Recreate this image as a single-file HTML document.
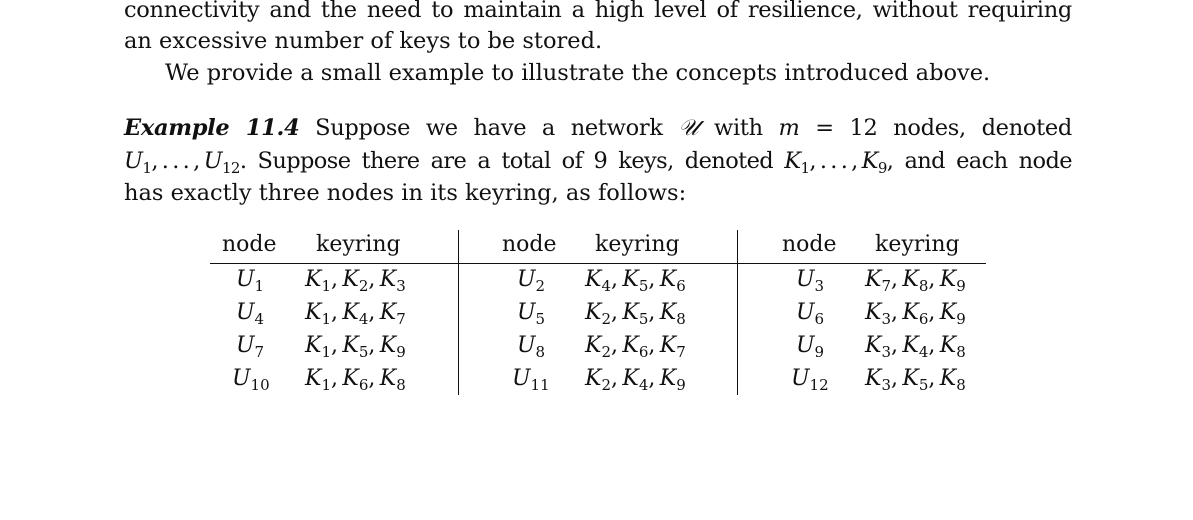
<!DOCTYPE html>
<html><head><meta charset="utf-8"><style>
html,body{margin:0;padding:0;background:#fff;}
body{width:1193px;height:520px;position:relative;overflow:hidden;font-family:"DejaVu Serif","Liberation Serif",serif;font-size:22.5px;color:#111;}
.l{position:absolute;left:124px;white-space:nowrap;line-height:32px;}
.j{width:948px;text-align:justify;text-align-last:justify;white-space:normal;letter-spacing:-0.3px;height:32px;overflow:visible;}
i{font-style:italic;}
sub{font-size:15px;vertical-align:-5px;line-height:0;}
.c{position:absolute;white-space:nowrap;line-height:32px;font-size:22px;}
.vr{position:absolute;width:1.3px;background:#111;top:230px;height:165px;}
.hr{position:absolute;left:210px;width:776px;top:263px;height:1.3px;background:#111;}
</style></head><body>
<div class="l j" style="top:-6px">connectivity and the need to maintain a high level of resilience, without requiring</div>
<div class="l" style="top:25px">an excessive number of keys to be stored.</div>
<div class="l" style="top:57px;left:165px">We provide a small example to illustrate the concepts introduced above.</div>
<div class="l j" style="top:112px"><b><i>Example 11.4</i></b> Suppose we have a network <i>𝒰</i> with <i>m</i> = 12 nodes, denoted</div>
<div class="l j" style="top:145px;letter-spacing:-0.6px"><i>U</i><sub>1</sub>,&#8201;.&#8201;.&#8201;.&#8201;,&#8201;<i>U</i><sub>12</sub>. Suppose there are a total of 9 keys, denoted <i>K</i><sub>1</sub>,&#8201;.&#8201;.&#8201;.&#8201;,&#8201;<i>K</i><sub>9</sub>, and each node</div>
<div class="l" style="top:177px">has exactly three nodes in its keyring, as follows:</div>

<div>
<div class="hr"></div>
<div class="vr" style="left:458px"></div>
<div class="vr" style="left:737px"></div>
<div class="c" style="left:222px;top:229px">node</div>
<div class="c" style="left:316px;top:229px">keyring</div>
<div class="c" style="left:502px;top:229px">node</div>
<div class="c" style="left:595px;top:229px">keyring</div>
<div class="c" style="left:782px;top:229px">node</div>
<div class="c" style="left:875px;top:229px">keyring</div>
</div>
<div id="rows"></div>
<script>
const nodes=[[1,2,3],[4,5,6],[7,8,9],[10,11,12]];
const keys=[[[1,2,3],[4,5,6],[7,8,9]],[[1,4,7],[2,5,8],[3,6,9]],[[1,5,9],[2,6,7],[3,4,8]],[[1,6,8],[2,4,9],[3,5,8]]];
const nodeX=[[236,517,796],[232,512,791]];
const keyX=[305,585,865];
const rowsEl=document.getElementById('rows');
nodes.forEach((r,ri)=>{
  r.forEach((n,ci)=>{
    const top=264+ri*33;
    const a=document.createElement('div');
    a.className='c';
    a.style.left=(n>=10?nodeX[1][ci]:nodeX[0][ci])+'px';a.style.top=top+'px';
    a.innerHTML='<i>U</i><sub>'+n+'</sub>';
    
    
    rowsEl.appendChild(a);
    const b=document.createElement('div');
    b.className='c';
    b.style.left=keyX[ci]+'px';b.style.top=top+'px';
    b.innerHTML=keys[ri][ci].map(k=>'<i>K</i><sub>'+k+'</sub>').join(',&#8201;');
    
    
    rowsEl.appendChild(b);
  });
});
</script>
</body></html>
